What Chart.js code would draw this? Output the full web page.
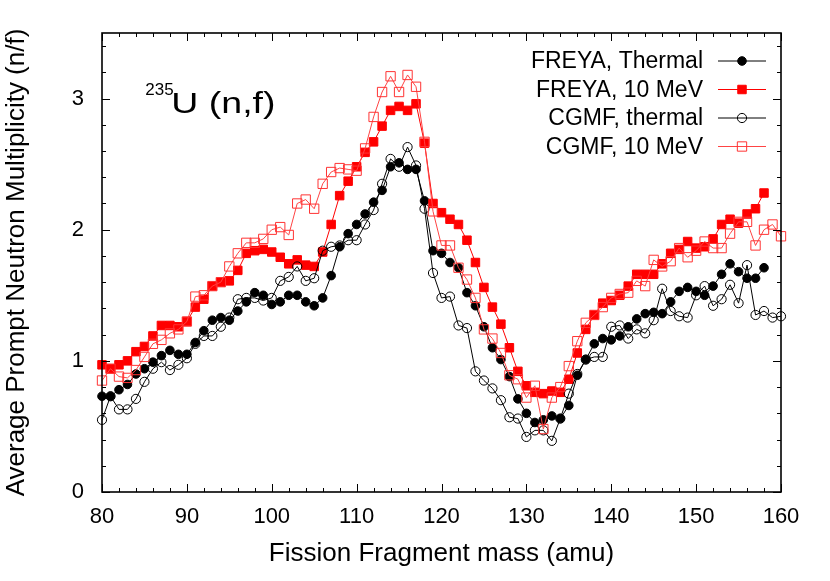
<!DOCTYPE html>
<html>
<head>
<meta charset="utf-8">
<script src="https://cdn.jsdelivr.net/npm/chart.js@4.4.0/dist/chart.umd.min.js"></script>
<style>
  html, body { margin: 0; padding: 0; background: #fff; }
  #wrap { width: 830px; height: 581px; }
</style>
</head>
<body>
<div id="wrap"><canvas id="chart" width="830" height="581"></canvas></div>
<script>
// fragment masses (amu)
const massFreya = [80, 81, 82, 83, 84, 85, 86, 87, 88, 89, 90, 91, 92, 93, 94, 95, 96, 97, 98, 99,
    100, 101, 102, 103, 104, 105, 106, 107, 108, 109, 110, 111, 112, 113, 114, 115, 116, 117, 118, 119,
    120, 121, 122, 123, 124, 125, 126, 127, 128, 129, 130, 131, 132, 133, 134, 135, 136, 137, 138, 139,
    140, 141, 142, 143, 144, 145, 146, 147, 148, 149, 150, 151, 152, 153, 154, 155, 156, 157, 158];
const massCgmf = [80, 81, 82, 83, 84, 85, 86, 87, 88, 89, 90, 91, 92, 93, 94, 95, 96, 97, 98, 99,
    100, 101, 102, 103, 104, 105, 106, 107, 108, 109, 110, 111, 112, 113, 114, 115, 116, 117, 118, 119,
    120, 121, 122, 123, 124, 125, 126, 127, 128, 129, 130, 131, 132, 133, 134, 135, 136, 137, 138, 139,
    140, 141, 142, 143, 144, 145, 146, 147, 148, 149, 150, 151, 152, 153, 154, 155, 156, 157, 158, 159, 160];

// average prompt neutron multiplicity (n/f)
const freyaThermal = [0.73, 0.73, 0.78, 0.82, 0.90, 0.94, 0.99, 1.04, 1.08, 1.05,
    1.05, 1.14, 1.23, 1.31, 1.33, 1.31, 1.38, 1.45, 1.52, 1.50,
    1.43, 1.45, 1.50, 1.50, 1.45, 1.42, 1.48, 1.65, 1.87, 1.97,
    2.04, 2.12, 2.21, 2.30, 2.48, 2.51, 2.46, 2.46, 2.22, 1.84,
    1.82, 1.75, 1.71, 1.52, 1.42, 1.26, 1.10, 1.01, 0.88, 0.71,
    0.60, 0.53, 0.55, 0.58, 0.56, 0.66, 0.89, 1.01, 1.13, 1.17,
    1.16, 1.19, 1.26, 1.32, 1.36, 1.37, 1.36, 1.45, 1.53, 1.56,
    1.53, 1.50, 1.57, 1.66, 1.74, 1.68, 1.63, 1.63, 1.71];
const freya10MeV = [0.97, 0.94, 0.97, 1.00, 1.07, 1.11, 1.19, 1.27, 1.27, 1.26,
    1.30, 1.41, 1.47, 1.57, 1.60, 1.61, 1.69, 1.82, 1.84, 1.85,
    1.83, 1.79, 1.74, 1.77, 1.73, 1.72, 1.83, 2.04, 2.26, 2.37,
    2.48, 2.59, 2.67, 2.79, 2.91, 2.94, 2.91, 2.96, 2.66, 2.20,
    2.13, 2.08, 2.04, 1.92, 1.75, 1.56, 1.41, 1.28, 1.10, 0.92,
    0.81, 0.76, 0.75, 0.77, 0.76, 0.86, 1.06, 1.24, 1.35, 1.44,
    1.46, 1.50, 1.57, 1.66, 1.66, 1.66, 1.74, 1.82, 1.85, 1.91,
    1.86, 1.87, 1.93, 2.04, 2.08, 2.05, 2.12, 2.16, 2.28];
const cgmfThermal = [0.55, 0.73, 0.63, 0.63, 0.71, 0.84, 0.94, 0.99, 0.93, 0.97,
    1.02, 1.13, 1.19, 1.19, 1.26, 1.33, 1.47, 1.48, 1.48, 1.46,
    1.48, 1.61, 1.64, 1.72, 1.61, 1.63, 1.84, 1.87, 1.88, 1.92,
    1.92, 2.04, 2.15, 2.35, 2.54, 2.48, 2.63, 2.49, 2.16, 1.67,
    1.48, 1.49, 1.27, 1.25, 0.92, 0.85, 0.79, 0.70, 0.57, 0.56,
    0.42, 0.47, 0.47, 0.39, 0.56, 0.75, 0.90, 1.01, 1.03, 1.03,
    1.26, 1.27, 1.17, 1.24, 1.21, 1.31, 1.55, 1.38, 1.34, 1.33,
    1.50, 1.57, 1.42, 1.47, 1.58, 1.44, 1.73, 1.35, 1.38, 1.33,
    1.34];
const cgmf10MeV = [0.85, 0.94, 0.88, 0.87, 0.93, 1.03, 1.13, 1.16, 1.21, 1.24,
    1.30, 1.49, 1.50, 1.57, 1.60, 1.72, 1.82, 1.90, 1.90, 1.93,
    2.00, 2.02, 1.96, 2.20, 2.23, 2.16, 2.35, 2.44, 2.47, 2.46,
    2.45, 2.62, 2.86, 3.05, 3.17, 3.05, 3.18, 3.09, 2.67, 2.14,
    1.88, 1.88, 1.71, 1.62, 1.48, 1.24, 1.17, 1.06, 0.89, 0.86,
    0.72, 0.81, 0.48, 0.72, 0.80, 0.96, 1.15, 1.29, 1.35, 1.41,
    1.48, 1.51, 1.52, 1.61, 1.57, 1.77, 1.72, 1.76, 1.86, 1.79,
    1.84, 1.91, 1.86, 1.86, 1.97, 2.06, 2.06, 1.88, 2.00, 2.04,
    1.95];

const seriesLabels = ['FREYA, Thermal', 'FREYA, 10 MeV', 'CGMF, thermal', 'CGMF, 10 MeV'];
const xTickValues = [80, 90, 100, 110, 120, 130, 140, 150, 160];
const yTickValues = [0, 1, 2, 3];

const FONT = "'Liberation Sans', Arial, Helvetica, sans-serif";

function toPoints(xs, ys) {
    return xs.map((m, i) => ({ x: m, y: ys[i] }));
}

// gnuplot-like border with inward ticks on all four sides
const frameTicks = {
    id: 'frameTicks',
    afterDatasetsDraw(chart) {
        const { ctx, chartArea: a, scales: { x, y } } = chart;
        ctx.save();
        ctx.strokeStyle = '#000';
        ctx.lineWidth = 1;
        ctx.beginPath();
        for (let v = 80; v <= 160; v += 2) {
            const px = Math.round(x.getPixelForValue(v)) + 0.5;
            const len = (v % 10 === 0) ? 8 : 4;
            ctx.moveTo(px, a.bottom); ctx.lineTo(px, a.bottom - len);
            ctx.moveTo(px, a.top); ctx.lineTo(px, a.top + len);
        }
        for (let k = 0; k <= 17; k++) {
            const v = k / 5;
            const py = Math.round(y.getPixelForValue(v)) + 0.5;
            const len = (k % 5 === 0) ? 8 : 4;
            ctx.moveTo(a.left, py); ctx.lineTo(a.left + len, py);
            ctx.moveTo(a.right, py); ctx.lineTo(a.right - len, py);
        }
        ctx.stroke();
        ctx.lineWidth = 1.6;
        ctx.strokeRect(a.left, a.top, a.right - a.left, a.bottom - a.top);
        ctx.restore();
    }
};

// key in the upper right: text right-aligned, sample to its right
const keyBox = {
    id: 'keyBox',
    afterDraw(chart) {
        const { ctx } = chart;
        const rows = [61, 89.5, 118, 146.5];
        ctx.save();
        ctx.font = '23px ' + FONT;
        ctx.textAlign = 'right';
        ctx.textBaseline = 'middle';
        chart.data.datasets.forEach((ds, i) => {
            const yy = rows[i];
            ctx.fillStyle = '#000';
            ctx.fillText(ds.label, 703, yy + 1);
            ctx.strokeStyle = ds.borderColor;
            ctx.lineWidth = ds.borderWidth;
            ctx.beginPath();
            ctx.moveTo(718, yy); ctx.lineTo(766, yy);
            ctx.stroke();
            const r = ds.pointRadius;
            ctx.beginPath();
            if (ds.pointStyle === 'circle') {
                ctx.arc(742, yy, r, 0, Math.PI * 2);
            } else {
                const h = r * Math.SQRT1_2;
                ctx.rect(742 - h, yy - h, 2 * h, 2 * h);
            }
            if (ds.pointBackgroundColor !== 'rgba(0,0,0,0)') {
                ctx.fillStyle = ds.pointBackgroundColor;
                ctx.fill();
            }
            ctx.strokeStyle = ds.pointBorderColor;
            ctx.lineWidth = 1;
            ctx.stroke();
        });
        ctx.restore();
    }
};

// "235U (n,f)" label, glyphs a little wider than Arial like the original
const isotopeLabel = {
    id: 'isotopeLabel',
    afterDraw(chart) {
        const { ctx, scales: { x, y } } = chart;
        const px = x.getPixelForValue(85.1);
        const py = y.getPixelForValue(2.89);
        ctx.save();
        ctx.fillStyle = '#000';
        ctx.textBaseline = 'alphabetic';
        ctx.textAlign = 'left';
        ctx.font = '17px ' + FONT;
        ctx.fillText('235', px, py - 18);
        ctx.translate(px + 26, py);
        ctx.scale(1.25, 1);
        ctx.font = '30px ' + FONT;
        ctx.fillText('U (n,f)', 0, 0);
        ctx.restore();
    }
};

const ctx = document.getElementById('chart').getContext('2d');
new Chart(ctx, {
    type: 'line',
    data: {
        datasets: [
            {
                label: seriesLabels[0],
                data: toPoints(massFreya, freyaThermal),
                borderColor: '#000',
                borderWidth: 1,
                pointStyle: 'circle',
                pointRadius: 4.3,
                pointBackgroundColor: '#000',
                pointBorderColor: '#000',
                pointBorderWidth: 1,
                order: 3,
                clip: false
            },
            {
                label: seriesLabels[1],
                data: toPoints(massFreya, freya10MeV),
                borderColor: '#ff0000',
                borderWidth: 1,
                pointStyle: 'rect',
                pointRadius: 6,
                pointBackgroundColor: '#ff0000',
                pointBorderColor: '#ff0000',
                pointBorderWidth: 1,
                order: 2,
                clip: false
            },
            {
                label: seriesLabels[2],
                data: toPoints(massCgmf, cgmfThermal),
                borderColor: '#000',
                borderWidth: 1,
                pointStyle: 'circle',
                pointRadius: 4.6,
                pointBackgroundColor: 'rgba(0,0,0,0)',
                pointBorderColor: '#000',
                pointBorderWidth: 1,
                order: 1,
                clip: false
            },
            {
                label: seriesLabels[3],
                data: toPoints(massCgmf, cgmf10MeV),
                borderColor: '#ff4444',
                borderWidth: 1,
                pointStyle: 'rect',
                pointRadius: 6.6,
                pointBackgroundColor: 'rgba(0,0,0,0)',
                pointBorderColor: '#ff3333',
                pointBorderWidth: 1,
                order: 0,
                clip: false
            }
        ]
    },
    options: {
        responsive: false,
        animation: false,
        layout: { padding: { top: 33, right: 49, left: 0, bottom: 0 } },
        plugins: {
            legend: { display: false },
            tooltip: { enabled: false }
        },
        elements: { line: { tension: 0 } },
        scales: {
            x: {
                type: 'linear',
                min: 80,
                max: 160,
                afterFit(scale) { scale.height = 89; },
                afterBuildTicks(scale) { scale.ticks = xTickValues.map(v => ({ value: v })); },
                grid: { display: false, drawTicks: false },
                border: { display: false },
                ticks: {
                    color: '#000',
                    padding: 12,
                    maxRotation: 0,
                    font: { family: FONT, size: 22 }
                },
                title: {
                    display: true,
                    text: 'Fission Fragment mass (amu)',
                    color: '#000',
                    font: { family: FONT, size: 26 },
                    padding: { top: 0, bottom: 12 }
                }
            },
            y: {
                min: 0,
                max: 3.5,
                afterFit(scale) { scale.width = 102; },
                afterBuildTicks(scale) { scale.ticks = yTickValues.map(v => ({ value: v })); },
                grid: { display: false, drawTicks: false },
                border: { display: false },
                ticks: {
                    color: '#000',
                    padding: 18,
                    font: { family: FONT, size: 22 }
                },
                title: {
                    display: true,
                    text: 'Average Prompt Neutron Multiplicity (n/f)',
                    color: '#000',
                    font: { family: FONT, size: 26 },
                    padding: { top: 1, bottom: 0 }
                }
            }
        }
    },
    plugins: [frameTicks, keyBox, isotopeLabel]
});
</script>
</body>
</html>
